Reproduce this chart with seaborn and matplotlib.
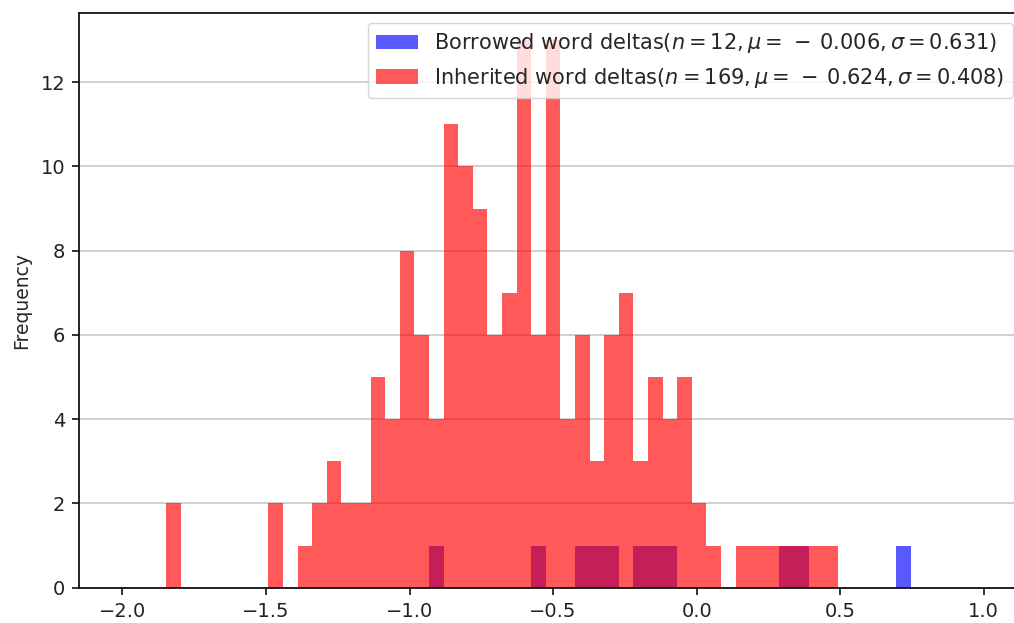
import numpy as np
import pandas as pd
import matplotlib
matplotlib.use("Agg")
import matplotlib.pyplot as plt
from matplotlib.patches import Patch
import seaborn as sns

# Shared histogram bins: 59 equal-width bins spanning [-2, 1]
bin_lo, bin_hi, n_bins = -2.0, 1.0, 59

# Per-bin counts of the inherited-word deltas (n = 169)
inherited_counts = [
    0, 0, 0, 2, 0, 0, 0, 0, 0, 0,
    2, 0, 1, 2, 3, 2, 2, 5, 4, 8,
    6, 4, 11, 10, 9, 6, 7, 13, 6, 13,
    4, 6, 3, 6, 7, 3, 5, 4, 5, 2,
    1, 0, 1, 1, 1, 1, 1, 1, 1, 0,
    0, 0, 0, 0, 0, 0, 0, 0, 0,
]

# Per-bin counts of the borrowed-word deltas that fall inside the bin range
borrowed_counts = [
    0, 0, 0, 0, 0, 0, 0, 0, 0, 0,
    0, 0, 0, 0, 0, 0, 0, 0, 0, 0,
    0, 1, 0, 0, 0, 0, 0, 0, 1, 0,
    0, 1, 1, 1, 0, 1, 1, 1, 0, 0,
    0, 0, 0, 0, 0, 1, 1, 0, 0, 0,
    0, 0, 0, 1, 0, 0, 0, 0, 0,
]

borrowed_label = r"Borrowed word deltas($n = 12, \mu = \,-\: 0.006, \sigma = 0.631$)"
inherited_label = r"Inherited word deltas($n = 169, \mu = \,-\: 0.624, \sigma = 0.408$)"

sns.set_style("ticks")
plt.rcParams.update({
    "font.family": ["DejaVu Sans"],
    "font.size": 14,
    "axes.linewidth": 1.3,
    "xtick.major.size": 5,
    "ytick.major.size": 5,
    "xtick.major.width": 1.3,
    "ytick.major.width": 1.3,
    "xtick.major.pad": 5,
    "ytick.major.pad": 5,
    "xtick.labelsize": 14,
    "ytick.labelsize": 14,
    "xtick.color": "#222222",
    "ytick.color": "#222222",
    "axes.edgecolor": "#111111",
})

edges = np.linspace(bin_lo, bin_hi, n_bins + 1)
centers = (edges[:-1] + edges[1:]) / 2
borrowed_df = pd.DataFrame({"delta": centers, "count": borrowed_counts})
inherited_df = pd.DataFrame({"delta": centers, "count": inherited_counts})

fig = plt.figure(figsize=(10.14, 6.23), dpi=100)
ax = fig.add_axes([0.0782, 0.0567, 0.9345, 0.9229])

alpha = 0.65
hist_kws = dict(x="delta", weights="count", bins=n_bins,
                binrange=(bin_lo, bin_hi), alpha=alpha, linewidth=0, ax=ax)
sns.histplot(data=borrowed_df, color="blue", **hist_kws)
sns.histplot(data=inherited_df, color="red", **hist_kws)

ax.yaxis.grid(True, color="#c4c4c4", linewidth=1.1)
ax.xaxis.grid(False)
ax.set_axisbelow(True)
ax.spines["right"].set_visible(False)
ax.set_xticks([-2.0, -1.5, -1.0, -0.5, 0.0, 0.5, 1.0])
ax.set_xlabel("")
ax.set_ylabel("Frequency", fontsize=13.5, labelpad=7)

handles = [Patch(facecolor="blue", alpha=alpha, linewidth=0),
           Patch(facecolor="red", alpha=alpha, linewidth=0)]
ax.legend(handles, [borrowed_label, inherited_label], loc="upper right",
          fontsize=15, borderaxespad=0,
          bbox_to_anchor=(1013 / 1014, 1 - 23 / 623),
          bbox_transform=fig.transFigure)

fig.savefig("out.png", dpi=100)
